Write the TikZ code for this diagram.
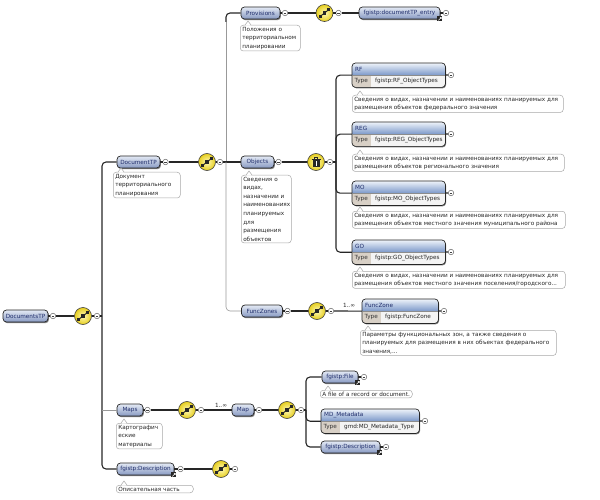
\documentclass[tikz,border=0pt]{standalone}
\usepackage{fontspec}
\setmainfont{DejaVu Sans}
\usetikzlibrary{shadows}
\definecolor{elTop}{HTML}{E4EAF5}
\definecolor{elBot}{HTML}{8799C2}
\definecolor{navy}{HTML}{1E2C6A}
\definecolor{hdTop}{HTML}{EEF3FA}
\definecolor{hdBot}{HTML}{7B98C9}
\definecolor{typeC}{HTML}{D8D0C6}
\definecolor{bodyC}{HTML}{F4F4F4}
\definecolor{docB}{HTML}{A8A8A8}
\definecolor{seqIn}{HTML}{FFF9B8}
\definecolor{seqOut}{HTML}{E6CE1E}
\newcommand\fs{\fontsize{5.7}{8.6}\selectfont}
\newcommand\typedel[6]{%
  \node[tbox, minimum width=#4, anchor=north west] (#1) at (#2,#3) {};
  \begin{scope}
    \clip[rounded corners=3.5pt] (#1.north west) rectangle (#1.south east);
    \fill[bodyC] (#1.west) rectangle (#1.south east);
    \shade[top color=hdTop, bottom color=hdBot] (#1.north west) rectangle (#1.east);
    \fill[typeC] (#1.west) rectangle ([xshift=19pt]#1.south west);
    \node[anchor=west, font=\fs, text=navy, inner sep=0] (#1-t) at ([xshift=3pt,yshift=-6pt]#1.north west) {#5};
    \node[anchor=west, font=\fs, text=black!80, inner sep=0] (#1-k) at ([xshift=2.5pt,yshift=6pt]#1.south west) {Type};
    \node[anchor=west, font=\fs, text=black!85, inner sep=0] (#1-v) at ([xshift=23pt,yshift=6pt]#1.south west) {#6};
  \end{scope}
  \draw[black!85, line width=0.7pt, rounded corners=3.5pt] (#1.north west) rectangle (#1.south east);
  \draw[black!45, line width=0.4pt] (#1.west) -- (#1.east);
}
\newcommand\docnote[5]{%
  \node[doc, text width=#4, anchor=north west] (#1) at (#2,#3) {#5};
  \fill[white] ([shift={(5.3,0.7)}]#1.north west) -- ++(2.7,-4.7) -- ++(2.7,4.7) -- cycle;
  \draw[docB, line width=0.5pt] ([xshift=5pt]#1.north west) -- ++(3,-4) -- ++(3,4);
}
\begin{document}
\begin{tikzpicture}[x=1pt,y=-1pt,
  el/.style={draw=black!85, line width=0.7pt, rounded corners=3.5pt, top color=elTop, bottom color=elBot,
    text=navy, font=\fs, inner xsep=1pt, inner ysep=0pt, minimum height=12pt,
    drop shadow={shadow xshift=0.9pt, shadow yshift=-1.2pt, opacity=0.5, fill=black}},
  tbox/.style={rectangle, minimum height=24pt, inner sep=0pt, fill=bodyC, rounded corners=3.5pt,
    drop shadow={shadow xshift=0.9pt, shadow yshift=-1.2pt, opacity=0.5, fill=black}},
  doc/.style={draw=docB, line width=0.5pt, rounded corners=3pt, fill=white, font=\fs,
    inner xsep=2pt, inner ysep=1.6pt, align=left, text=black!85},
  cc/.style={circle, draw=black!60, fill=white, line width=0.5pt, minimum size=5.5pt, inner sep=0pt,
    path picture={\draw[line width=0.5pt,black!75] ([xshift=-1.3pt]path picture bounding box.center) -- ([xshift=1.3pt]path picture bounding box.center);}},
  seq/.style={circle, draw=black!75, line width=0.6pt, minimum size=17pt, inner sep=0pt,
    inner color=seqIn, outer color=seqOut,
    path picture={\begin{scope}[shift={(path picture bounding box.center)}]
      \draw[line width=0.9pt, black!85] (-4.5,3.5) -- (4.5,-3.5);
      \fill[black!85] (-5.8,2) rectangle (-2.6,5.2);
      \fill[black!85] (-1.7,-1.7) rectangle (1.7,1.7);
      \fill[black!85] (2.6,-5.2) rectangle (5.8,-2);
    \end{scope}}},
  choice/.style={circle, draw=black!75, line width=0.6pt, minimum size=17pt, inner sep=0pt,
    inner color=seqIn, outer color=seqOut,
    path picture={\begin{scope}[shift={(path picture bounding box.center)}]
      \draw[line width=0.9pt, black!85] (-4.5,-3) -- (4.5,-3);
      \draw[line width=0.8pt, black!85] (-1.5,-3) -- (-1.5,-4.8) -- (1.5,-4.8) -- (1.5,-3);
      \fill[black!85] (-3.5,-1.6) rectangle (3.5,4.8);
      \draw[white, line width=0.5pt] (0,-0.6) -- (0,3.8);
    \end{scope}}},
  lnk/.style={fill=black!85, minimum size=5pt, inner sep=0pt,
    path picture={\begin{scope}[shift={(path picture bounding box.center)}]
      \draw[white, line width=0.55pt] (-1.5,1.5) -- (1.4,-1.4) (0,-1.4) -- (1.4,-1.4) -- (1.4,0);
    \end{scope}}},
  conline/.style={line width=1.1pt, black!85, rounded corners=4pt},
  optline/.style={line width=0.6pt, black!40, rounded corners=4pt},
  mult/.style={font=\fs, inner sep=0pt, text=black!85}
]
\useasboundingbox (0,0) rectangle (600,500);

% ---------- root ----------
\node[el, minimum width=45] (DocumentsTP) at (25.5,316) {DocumentsTP};
\node[cc] (c1) at (53,316) {};
\node[seq] (s1) at (83,316) {};
\node[cc] (c2) at (97,316) {};
\coordinate (v1) at (102,316);
\coordinate (v1m) at (102,410);

% ---------- DocumentTP ----------
\node[el, minimum width=43] (DocumentTP) at (138.5,162) {DocumentTP};
\docnote{dDocTP}{113}{172}{63pt}{Документ\\территориального\\планирования}
\node[cc] (c3) at (165.5,162) {};
\node[seq] (s2) at (207,162) {};
\node[cc] (c4) at (220,162) {};
\coordinate (v2) at (226,162);
\coordinate (v2t) at (226,22);

% ---------- Provisions ----------
\node[el, minimum width=39] (Provisions) at (260.5,13) {Provisions};
\docnote{dProv}{240}{25}{56pt}{Положения о\\территориальном\\планировании}
\node[cc] (c5) at (285,13) {};
\node[seq] (s3) at (324.5,13) {};
\node[cc] (c6) at (338.5,13) {};
\node[el, minimum width=81] (entry) at (399.5,13) {fgistp:documentTP\_entry};
\node[lnk] (lk1) at ([xshift=-0.5pt,yshift=0.5pt]entry.south east) {};
\node[cc] (c7) at (446,13) {};

% ---------- Objects ----------
\node[el, minimum width=33] (Objects) at (257.5,162) {Objects};
\docnote{dObj}{241}{175}{46pt}{Сведения о\\видах,\\назначении и\\наименованиях\\планируемых\\для\\размещения\\объектов}
\node[cc] (c8) at (278.5,162) {};
\node[choice] (ch) at (316,162) {};
\node[cc] (c9) at (330,162) {};
\coordinate (v3) at (336,162);

\typedel{RF}{352}{63}{93}{RF}{fgistp:RF\_ObjectTypes}
\node[cc] (cRF) at (451,75) {};
\docnote{dRF}{352}{95}{207pt}{Сведения о видах, назначении и наименованиях планируемых для\\размещения объектов федерального значения}

\typedel{REG}{352}{122}{93}{REG}{fgistp:REG\_ObjectTypes}
\node[cc] (cREG) at (451,134) {};
\docnote{dREG}{352}{154}{208pt}{Сведения о видах, назначении и наименованиях планируемых для\\размещения объектов регионального значения}

\typedel{MO}{352}{181}{93}{MO}{fgistp:MO\_ObjectTypes}
\node[cc] (cMO) at (451,193) {};
\docnote{dMO}{352}{211}{209pt}{Сведения о видах, назначении и наименованиях планируемых для\\размещения объектов местного значения муниципального района}

\typedel{GO}{352}{240}{93}{GO}{fgistp:GO\_ObjectTypes}
\node[cc] (cGO) at (451,252) {};
\docnote{dGO}{352}{271}{209pt}{Сведения о видах, назначении и наименованиях планируемых для\\размещения объектов местного значения поселения/городского...}

% ---------- FuncZones ----------
\node[el, minimum width=41] (FuncZones) at (262,311) {FuncZones};
\node[cc] (c10) at (287.5,311) {};
\node[seq] (s4) at (317,311) {};
\node[cc] (c11) at (331,311) {};
\typedel{FuncZone}{362}{299}{76}{FuncZone}{fgistp:FuncZone}
\node[mult] (m1) at (349,305) {1..∞};
\node[cc] (c12) at (444,311) {};
\docnote{dFZ}{360}{330}{192pt}{Параметры функциональных зон, а также сведения о\\планируемых для размещения в них объектах федерального\\значения,...}

% ---------- Maps ----------
\node[el, minimum width=26] (Maps) at (130,410) {Maps};
\docnote{dMaps}{116}{423}{42pt}{Картографич\\еские\\материалы}
\node[cc] (c13) at (147.5,410) {};
\node[seq] (s5) at (187,410) {};
\node[cc] (c14) at (201,410) {};
\node[mult] (m2) at (221,405) {1..∞};
\node[el, minimum width=22] (Map) at (243,410) {Map};
\node[cc] (c15) at (259,410) {};
\node[seq] (s6) at (287,410) {};
\node[cc] (c16) at (301,410) {};
\coordinate (v4) at (306,410);

\node[el, minimum width=36] (File) at (340,377) {fgistp:File};
\node[lnk] (lk2) at ([xshift=-0.5pt,yshift=0.5pt]File.south east) {};
\node[cc] (c19) at (364,377) {};
\docnote{dFile}{320}{390}{88pt}{A file of a record or document.}

\typedel{MD}{321}{409}{98}{MD\_Metadata}{gmd:MD\_Metadata\_Type}
\node[cc] (c20) at (425,421) {};

\node[el, minimum width=59] (Desc2) at (350.5,447) {fgistp:Description};
\node[lnk] (lk3) at ([xshift=-0.5pt,yshift=0.5pt]Desc2.south east) {};
\node[cc] (c21) at (386,447) {};

% ---------- bottom Description ----------
\node[el, minimum width=57] (descB) at (145.5,469) {fgistp:Description};
\node[lnk] (lk4) at ([xshift=-0.5pt,yshift=0.5pt]descB.south east) {};
\node[cc] (c17) at (180.5,469) {};
\node[seq] (s7) at (221,469) {};
\node[cc] (c18) at (235,469) {};
\docnote{dDescB}{116}{485}{73pt}{Описательная часть}

% ---------- connectors ----------
\draw[conline] (DocumentsTP) -- (c1);
\draw[conline] (c1) -- (s1);
\draw[conline] (s1) -- (c2);
\draw[conline] (c2) -- (v1);
\draw[conline] (v1) |- (DocumentTP.west);
\draw[conline] (v1) |- (descB.west);
\draw[optline] (v1m) -- (Maps);

\draw[conline] (DocumentTP) -- (c3);
\draw[conline] (c3) -- (s2);
\draw[conline] (s2) -- (c4);
\draw[conline] (c4) -- (v2);
\draw[optline] (v2) -- (v2t);
\draw[conline] (v2t) |- (Provisions.west);
\draw[conline] (v2) -- (Objects);
\draw[optline] (v2) |- (FuncZones.west);

\draw[conline] (Provisions) -- (c5);
\draw[conline] (c5) -- (s3);
\draw[conline] (s3) -- (c6);
\draw[conline] (c6) -- (entry);
\draw[conline] (entry) -- (c7);

\draw[conline] (Objects) -- (c8);
\draw[conline] (c8) -- (ch);
\draw[conline] (ch) -- (c9);
\draw[conline] (c9) -- (v3);
\draw[conline] (v3) |- (RF.west);
\draw[conline] (v3) |- (REG.west);
\draw[conline] (v3) |- (MO.west);
\draw[conline] (v3) |- (GO.west);
\draw[conline] (RF) -- (cRF);
\draw[conline] (REG) -- (cREG);
\draw[conline] (MO) -- (cMO);
\draw[conline] (GO) -- (cGO);

\draw[conline] (FuncZones) -- (c10);
\draw[conline] (c10) -- (s4);
\draw[conline] (s4) -- (c11);
\draw[conline] (c11) -- (FuncZone);
\draw[conline] (FuncZone) -- (c12);

\draw[conline] (Maps) -- (c13);
\draw[conline] (c13) -- (s5);
\draw[conline] (s5) -- (c14);
\draw[conline] (c14) -- (Map);
\draw[conline] (Map) -- (c15);
\draw[conline] (c15) -- (s6);
\draw[conline] (s6) -- (c16);
\draw[conline] (c16) -- (v4);
\draw[conline] (v4) |- (File.west);
\draw[conline] (v4) |- (MD.west);
\draw[conline] (v4) |- (Desc2.west);
\draw[conline] (File) -- (c19);
\draw[conline] (MD) -- (c20);
\draw[conline] (Desc2) -- (c21);

\draw[conline] (descB) -- (c17);
\draw[conline] (c17) -- (s7);
\draw[conline] (s7) -- (c18);
\end{tikzpicture}
\end{document}
